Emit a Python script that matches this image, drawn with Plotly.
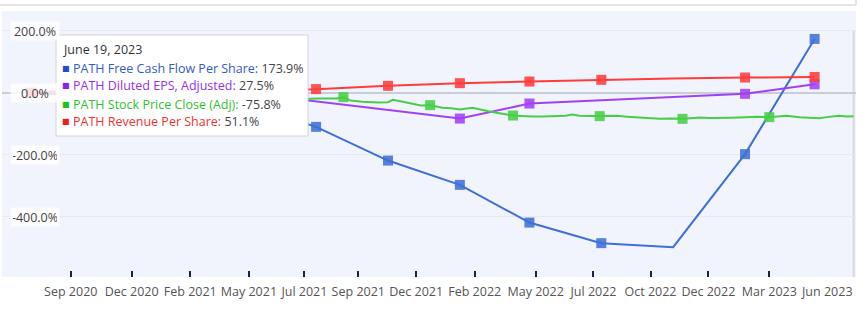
import plotly.graph_objects as go
from datetime import date

# ---------------- data ----------------
quarter_dates = ["2020-07-31", "2020-10-31", "2021-01-31", "2021-04-30", "2021-07-31", "2021-10-31",
                 "2022-01-31", "2022-04-30", "2022-07-31", "2022-10-31", "2023-01-31", "2023-04-30"]
fcf_per_share = [0, -12, -20, -34, -109.7, -218.4, -296.8, -418.4, -484.8, -497.7, -197.7, 173.9]
eps_adjusted = [0, 12, 8, 0, None, None, -82.9, -34.5, None, None, -3.2, 27.5]
revenue_per_share = [0, 3, 6, 9, 12, 22.6, 31.3, 36.5, 42, 46, 49.4, 51.1]
no_marker_dates = ["2022-10-31"]

price_dates = ["2021-04-21", "2021-05-05", "2021-05-20", "2021-06-04", "2021-06-18", "2021-07-02", "2021-07-12",
               "2021-07-22", "2021-08-02", "2021-08-16", "2021-08-26", "2021-09-04", "2021-09-13", "2021-09-28",
               "2021-10-08", "2021-10-19", "2021-10-31", "2021-11-06", "2021-11-19", "2021-12-01", "2021-12-12",
               "2021-12-24", "2022-01-09", "2022-01-20", "2022-01-31", "2022-02-16", "2022-03-01", "2022-03-10",
               "2022-03-19", "2022-04-09", "2022-04-20", "2022-05-04", "2022-05-18", "2022-06-04", "2022-06-15",
               "2022-06-24", "2022-07-03", "2022-07-15", "2022-07-29", "2022-08-10", "2022-08-19", "2022-09-02",
               "2022-09-18", "2022-10-01", "2022-10-14", "2022-10-28", "2022-11-12", "2022-11-22", "2022-12-04",
               "2022-12-16", "2022-12-30", "2023-01-12", "2023-01-24", "2023-02-15", "2023-03-03", "2023-03-15",
               "2023-03-25", "2023-04-11", "2023-04-22", "2023-05-06", "2023-05-18", "2023-06-01", "2023-06-10",
               "2023-06-19"]
price_close = [0, -3, 4, 8, 2, -6, -14,
               -19.4, -18.5, -19.4, -18, -13.9, -24.8, -29,
               -30, -31.3, -30, -22.6, -29, -34.5, -41,
               -39.7, -48.4, -50, -53.9, -48.4, -53.9, -60,
               -64.5, -73.2, -74.5, -76.5, -76, -75.2, -74,
               -70, -74.2, -75, -75.2, -73.2, -74.2, -77,
               -79.7, -82, -83.9, -82.5, -83.9, -82, -79.7,
               -81, -81.6, -80.5, -79.7, -77.4, -78.4, -76,
               -74.2, -78.4, -79, -81.6, -77.5, -74.2, -76.5,
               -75.8]
price_marker_dates = ["2021-09-04", "2021-12-24", "2022-04-09", "2022-07-29", "2022-11-12", "2023-03-03"]

series_names = ["PATH Free Cash Flow Per Share", "PATH Diluted EPS, Adjusted",
                "PATH Stock Price Close (Adj)", "PATH Revenue Per Share"]

x_range = ["2020-06-24", "2023-06-22"]
tick_dates = ["2020-09-20", "2020-12-07", "2021-02-20", "2021-05-06", "2021-07-16", "2021-09-23", "2021-12-06",
              "2022-02-19", "2022-05-08", "2022-07-21", "2022-10-02", "2022-12-15", "2023-03-03", "2023-06-21"]
tick_labels = ["Sep 2020", "Dec 2020", "Feb 2021", "May 2021", "Jul 2021", "Sep 2021", "Dec 2021",
               "Feb 2022", "May 2022", "Jul 2022", "Oct 2022", "Dec 2022", "Mar 2023", "Jun 2023"]
y_ticks = [200, 0, -200, -400]
y_range = [-594, 264]

# ---------------- styles ----------------
line_colors = ["#3f6fd6", "#a040f5", "#48cd48", "#ff3b3b"]
text_colors = ["#2f5cc9", "#9331ee", "#2fbf2f", "#f23131"]
square_colors = ["#1f4fc4", "#8a1ff0", "#19c419", "#f01c1c"]
FONT = "Open Sans"
TICK_SIZE = 12.5

fig = go.Figure()


def sizes(dates, values, skip, on=None):
    out = []
    for d, v in zip(dates, values):
        if v is None:
            out.append(0)
        elif on is not None:
            out.append(10 if d in on else 0)
        else:
            out.append(0 if d in skip else 10)
    return out


traces = [
    (quarter_dates, fcf_per_share, sizes(quarter_dates, fcf_per_share, no_marker_dates)),
    (quarter_dates, eps_adjusted, sizes(quarter_dates, eps_adjusted, no_marker_dates)),
    (price_dates, price_close, sizes(price_dates, price_close, [], on=price_marker_dates)),
    (quarter_dates, revenue_per_share, sizes(quarter_dates, revenue_per_share, no_marker_dates)),
]
for i, (xs, ys, ms) in enumerate(traces):
    fig.add_trace(go.Scatter(
        x=xs, y=ys, name=series_names[i], mode="lines+markers", connectgaps=True,
        line=dict(color=line_colors[i], width=2),
        marker=dict(symbol="square", size=ms, color=line_colors[i], opacity=0.88,
                    line=dict(width=0)),
        hoverinfo="skip",
    ))

annotations = []
# y tick pills
for v in y_ticks:
    annotations.append(dict(
        x=(35 - 2) / 854, xref="paper", y=v, yref="y", xanchor="center", yanchor="middle",
        text=f"{v:.1f}%", showarrow=False, width=44, height=14, borderpad=2,
        bgcolor="rgba(255,255,255,0.82)", font=dict(family=FONT, size=12.5, color="#444"),
    ))

# last x tick label sits to the left of its tick (right edge of the plot)
annotations.append(dict(x=tick_dates[-1], xref="x", y=0, yref="paper", xanchor="right",
                        yanchor="top", yshift=-4, showarrow=False, text=tick_labels[-1],
                        font=dict(family=FONT, size=TICK_SIZE, color="#555")))

# tooltip
last_date = date.fromisoformat(price_dates[-1])
title = f"{last_date.strftime('%B')} {last_date.day}, {last_date.year}"
last_vals = [fcf_per_share[-1], eps_adjusted[-1], price_close[-1], revenue_per_share[-1]]


def px_x(p):
    return (p - 2) / 854


def px_y(p):
    return (277 - p) / 266


annotations.append(dict(x=px_x(61), y=px_y(50), xref="paper", yref="paper", xanchor="left",
                        yanchor="middle", showarrow=False, text=title,
                        font=dict(family=FONT, size=12.5, color="#333")))
for i, (name, val) in enumerate(zip(series_names, last_vals)):
    yy = px_y(68 + 18 * i)
    annotations.append(dict(x=px_x(60), y=yy, xref="paper", yref="paper", xanchor="left",
                            yanchor="middle", showarrow=False, text="■",
                            font=dict(family="DejaVu Sans", size=8, color=square_colors[i])))
    annotations.append(dict(x=px_x(71), y=yy, xref="paper", yref="paper", xanchor="left",
                            yanchor="middle", showarrow=False,
                            text=f"<span style='color:{text_colors[i]}'>{name}:</span> {val:.1f}%",
                            font=dict(family=FONT, size=12.5, color="#444")))

shapes = [
    # hover spike
    dict(type="line", xref="x", yref="y", x0=price_dates[-1], x1=price_dates[-1],
         y0=y_range[0], y1=y_ticks[0], line=dict(color="#d6d9e0", width=2), layer="below"),
    # tooltip box
    dict(type="rect", xref="paper", yref="paper", x0=px_x(56), x1=px_x(308), y0=px_y(136), y1=px_y(35),
         fillcolor="white", line=dict(color="#d4d4d4", width=1)),
    # container border at top
    dict(type="line", xref="paper", yref="paper", x0=px_x(0), x1=px_x(856), y0=px_y(5), y1=px_y(5),
         line=dict(color="#dcdcdc", width=1.5)),
    dict(type="line", xref="paper", yref="paper", x0=px_x(856), x1=px_x(856), y0=px_y(5), y1=px_y(0),
         line=dict(color="#dcdcdc", width=1.5)),
]

fig.update_layout(
    width=868, height=315,
    margin=dict(l=2, r=12, t=11, b=38, autoexpand=False),
    paper_bgcolor="white", plot_bgcolor="#F1F4FC",
    showlegend=False,
    font=dict(family=FONT, size=TICK_SIZE, color="#555"),
    annotations=annotations, shapes=shapes,
    xaxis=dict(type="date", range=x_range, tickvals=tick_dates,
               ticktext=tick_labels[:-1] + [""], tickangle=0, automargin=False,
               ticks="inside", ticklen=6, tickwidth=1.5, tickcolor="#1b2240",
               showgrid=False, zeroline=False, showline=False,
               tickfont=dict(family=FONT, size=TICK_SIZE, color="#555"), ticklabelstandoff=5),
    yaxis=dict(range=y_range, tickvals=y_ticks, showticklabels=False, ticks="",
               showgrid=True, gridcolor="#E5E9F2", gridwidth=1,
               zeroline=True, zerolinecolor="#C9CDD6", zerolinewidth=2),
)

fig.write_html("out.html")
